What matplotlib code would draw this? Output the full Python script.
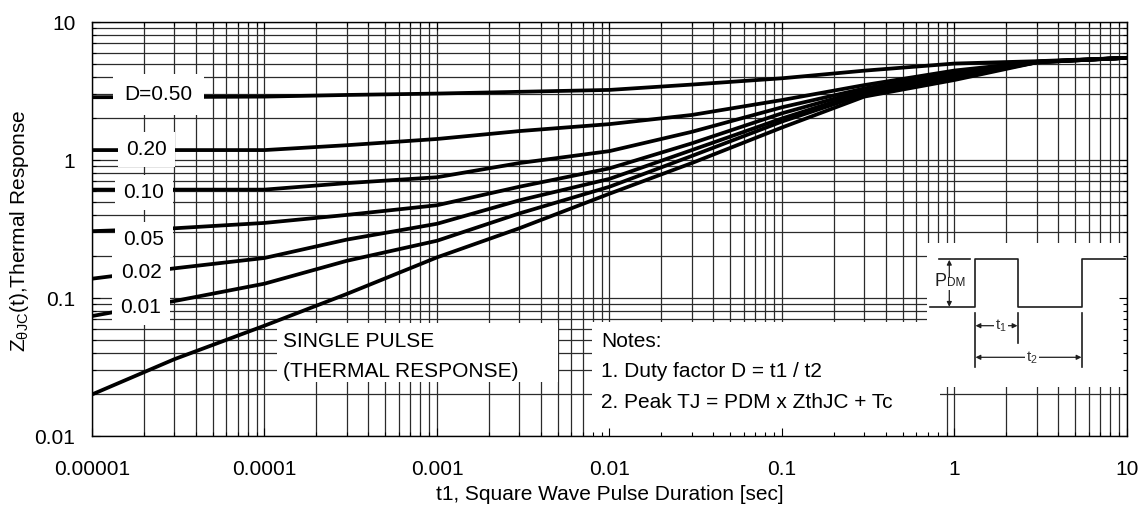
import matplotlib
matplotlib.use('Agg')
import matplotlib.pyplot as plt
from matplotlib.transforms import Affine2D
from matplotlib.patches import Rectangle
from matplotlib.ticker import FixedLocator, FixedFormatter, NullFormatter, LogLocator

plt.rcParams['font.family'] = ['Liberation Sans', 'DejaVu Sans']
plt.rcParams['mathtext.fontset'] = 'custom'
plt.rcParams['mathtext.rm'] = 'Liberation Sans'
plt.rcParams['mathtext.it'] = 'Liberation Sans:italic'
plt.rcParams['mathtext.bf'] = 'Liberation Sans:bold'

# ---------------- data ----------------
t1 = [1e-5, 3e-5, 1e-4, 3e-4, 1e-3, 3e-3, 1e-2, 3e-2, 1e-1, 3e-1, 1, 3, 10]
z_d050 = [2.85, 2.86, 2.88, 2.96, 3.03, 3.12, 3.22, 3.52, 3.91, 4.44, 5.00, 5.20, 5.50]
z_d020 = [1.18, 1.18, 1.18, 1.28, 1.42, 1.62, 1.82, 2.12, 2.72, 3.49, 4.45, 5.15, 5.50]
z_d010 = [0.61, 0.61, 0.61, 0.68, 0.75, 0.95, 1.16, 1.60, 2.41, 3.30, 4.30, 5.15, 5.50]
z_d005 = [0.305, 0.32, 0.35, 0.40, 0.47, 0.64, 0.87, 1.32, 2.18, 3.20, 4.20, 5.15, 5.50]
z_d002 = [0.138, 0.164, 0.195, 0.265, 0.345, 0.51, 0.73, 1.18, 2.00, 3.10, 4.05, 5.10, 5.50]
z_d001 = [0.074, 0.095, 0.127, 0.186, 0.26, 0.41, 0.64, 1.07, 1.90, 3.00, 3.95, 5.10, 5.50]
z_single = [0.020, 0.036, 0.063, 0.107, 0.197, 0.32, 0.57, 0.95, 1.72, 2.88, 3.80, 5.10, 5.50]
series = [z_d050, z_d020, z_d010, z_d005, z_d002, z_d001, z_single]

duty_labels = ['D=0.50', '0.20', '0.10', '0.05', '0.02', '0.01']
x_ticks = [1e-5, 1e-4, 1e-3, 1e-2, 1e-1, 1, 10]
x_tick_labels = ['0.00001', '0.0001', '0.001', '0.01', '0.1', '1', '10']
y_ticks = [0.01, 0.1, 1, 10]
y_tick_labels = ['0.01', '0.1', '1', '10']

# ---------------- figure ----------------
W, H = 1145, 512
fig = plt.figure(figsize=(W / 100, H / 100), dpi=100)
L, R, T, B = 92, 1127, 22, 436
ax = fig.add_axes([L / W, 1 - B / H, (R - L) / W, (B - T) / H])
PX = Affine2D().scale(1 / W, -1 / H).translate(0, 1) + fig.transFigure

ax.set_xscale('log')
ax.set_yscale('log')
ax.set_xlim(1e-5, 10)
ax.set_ylim(0.01, 10)
ax.set_autoscale_on(False)

# grid (drawn manually so white boxes can sit above it but below ticks)
GRID_C = '#2b2b2b'
for e in range(-5, 1):
    for m in range(1, 10):
        ax.axvline(m * 10.0 ** e, color=GRID_C, lw=0.9, zorder=0.5)
ax.axvline(10, color=GRID_C, lw=0.9, zorder=0.5)
for e in range(-2, 1):
    for m in range(1, 10):
        ax.axhline(m * 10.0 ** e, color=GRID_C, lw=0.9, zorder=0.5)
ax.axhline(10, color=GRID_C, lw=0.9, zorder=0.5)

for z in series:
    ax.plot(t1, z, color='black', lw=2.7, zorder=2, solid_capstyle='butt')

# ticks
ax.xaxis.set_major_locator(FixedLocator(x_ticks))
ax.xaxis.set_major_formatter(FixedFormatter(x_tick_labels))
ax.yaxis.set_major_locator(FixedLocator(y_ticks))
ax.yaxis.set_major_formatter(FixedFormatter(y_tick_labels))
ax.xaxis.set_minor_locator(LogLocator(base=10, subs=range(2, 10), numticks=20))
ax.yaxis.set_minor_locator(LogLocator(base=10, subs=range(2, 10), numticks=20))
ax.xaxis.set_minor_formatter(NullFormatter())
ax.yaxis.set_minor_formatter(NullFormatter())
ax.tick_params(which='both', direction='in', top=True, right=True, color='black', width=0.8)
ax.tick_params(which='major', length=6)
ax.tick_params(which='minor', length=3)
ax.tick_params(axis='x', which='major', pad=17, labelsize=15)
ax.tick_params(axis='y', which='major', pad=12, labelsize=15)
for s in ax.spines.values():
    s.set_linewidth(1.0)
    s.set_color('black')

# white boxes (above grid, below ticks)
for (x0, y0, w, h) in [(277, 323, 281, 59), (592, 322, 348, 114), (927, 243, 199, 144)]:
    ax.add_patch(Rectangle((x0, y0), w, h, transform=PX, fc='white', ec='none', zorder=1.5))

# duty cycle labels
lab_pos = [(158.5, 100, 8), (146.5, 155, 6), (144, 198, 6), (144, 245, 6), (141, 278, 6), (141, 313, 6)]
for s, (px, py, pad) in zip(duty_labels, lab_pos):
    ax.text(px, py, s, transform=PX, fontsize=15, ha='center', va='baseline', zorder=3,
            bbox=dict(fc='white', ec='none', pad=pad))

# single pulse text
ax.text(283, 347, 'SINGLE PULSE', transform=PX, fontsize=15, ha='left', va='baseline', zorder=2.2)
ax.text(283, 377, '(THERMAL RESPONSE)', transform=PX, fontsize=15, ha='left', va='baseline', zorder=2.2)

# notes
ax.text(601, 347, 'Notes:', transform=PX, fontsize=15, ha='left', va='baseline', zorder=2.2)
ax.text(601, 377, '1. Duty factor D = t1 / t2', transform=PX, fontsize=15, ha='left', va='baseline', zorder=2.2)
ax.text(601, 408, '2. Peak TJ = PDM x ZthJC + Tc', transform=PX, fontsize=15, ha='left', va='baseline', zorder=2.2)

# inset pulse diagram
WC = '#1e1e1e'
ax.plot([930, 975, 975, 1018, 1018, 1082, 1082, 1125],
        [307.3, 307.3, 259.3, 259.3, 307.3, 307.3, 259.3, 259.3],
        transform=PX, color=WC, lw=1.2, zorder=2.2, clip_on=False)
ax.plot([939, 970], [259.3, 259.3], transform=PX, color=WC, lw=1.2, zorder=2.2, clip_on=False)
for (xv, ya, yb) in [(975, 313, 367), (1018, 313, 343), (1082, 313, 367)]:
    ax.plot([xv, xv], [ya, yb], transform=PX, color=WC, lw=1.2, zorder=2.2, clip_on=False)

arrow_kw = dict(arrowstyle='<|-|>', lw=0.9, color=WC, mutation_scale=7, shrinkA=0, shrinkB=0)
ax.annotate('', xy=(949.3, 259.8), xytext=(949.3, 306.8), xycoords=PX, textcoords=PX,
            arrowprops=arrow_kw, zorder=2.2)
ax.annotate('', xy=(975.5, 325.7), xytext=(1017.5, 325.7), xycoords=PX, textcoords=PX,
            arrowprops=arrow_kw, zorder=2.2)
ax.annotate('', xy=(975.5, 357.3), xytext=(1081.5, 357.3), xycoords=PX, textcoords=PX,
            arrowprops=arrow_kw, zorder=2.2)

ax.text(934, 286.5, 'P', transform=PX, fontsize=13, ha='left', va='baseline', color=WC, zorder=2.3,
        bbox=dict(fc='white', ec='none', pad=0.3))
ax.text(946.5, 286.5, 'DM', transform=PX, fontsize=8.5, ha='left', va='baseline', color=WC, zorder=2.3,
        bbox=dict(fc='white', ec='none', pad=0.3))
ax.text(1001, 325.7, r'$\mathregular{t_1}$', transform=PX, fontsize=11, ha='center', va='center',
        color='#333333', zorder=2.3, bbox=dict(fc='white', ec='none', pad=0.5))
ax.text(1032, 357.3, r'$\mathregular{t_2}$', transform=PX, fontsize=11, ha='center', va='center',
        color='#333333', zorder=2.3, bbox=dict(fc='white', ec='none', pad=0.5))

# axis titles
fig.text(609.5, 494, 't1, Square Wave Pulse Duration [sec]', transform=PX, fontsize=15,
         ha='center', va='center')
fig.text(20, 231, r'Z$_{\mathregular{θJC}}$(t),Thermal Response', transform=PX, fontsize=15,
         ha='center', va='center', rotation=90)

fig.savefig('out.png', dpi=100)
